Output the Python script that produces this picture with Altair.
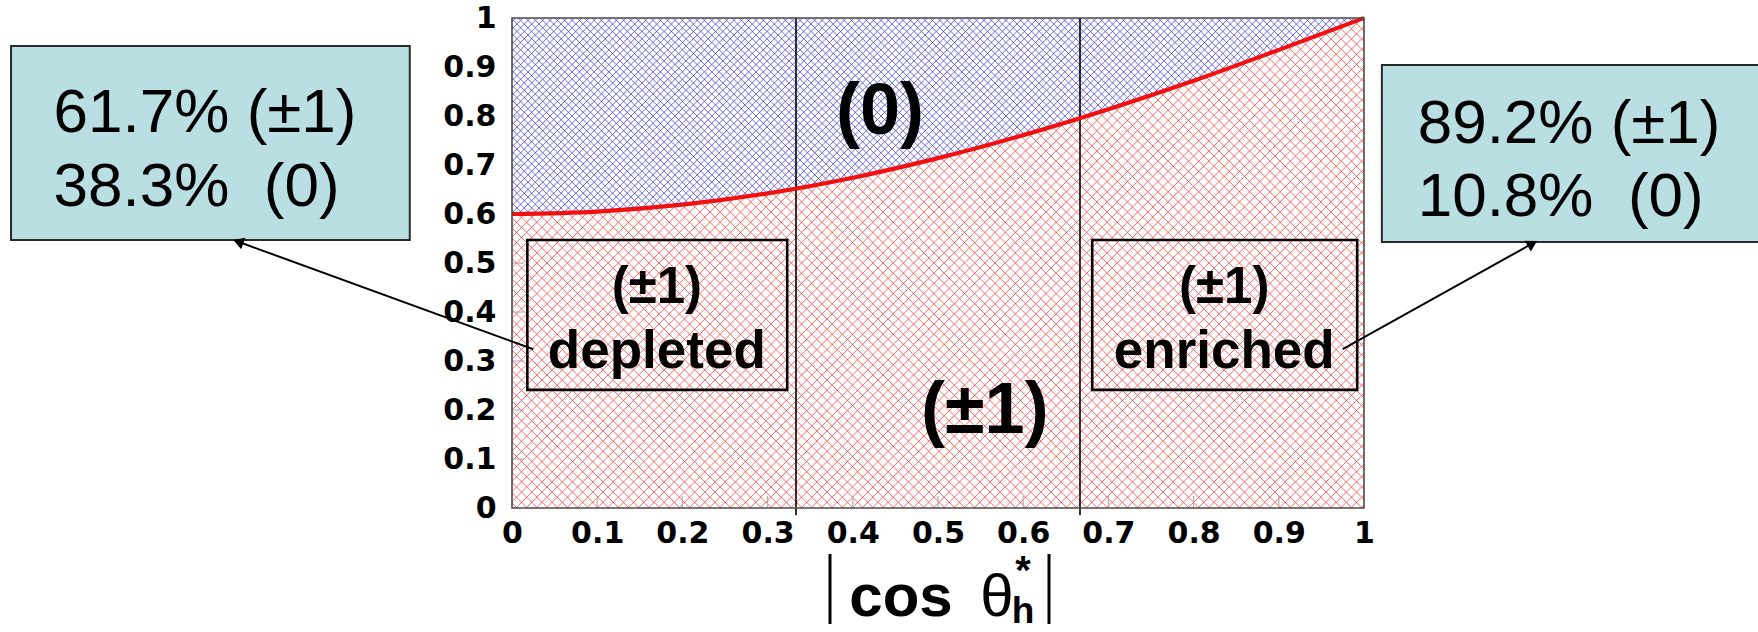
import numpy as np
import pandas as pd
import altair as alt

# Fraction of (±1) helicity events versus |cos theta_h*|
cos_theta = [0.0, 0.1, 0.2, 0.3, 0.4, 0.5, 0.6, 0.7, 0.8, 0.9, 1.0]
frac_pm1 = [0.600, 0.605, 0.619, 0.642, 0.674, 0.714, 0.761, 0.814, 0.872, 0.935, 1.000]

# Bin boundaries drawn as vertical lines
bin_edges = [1 / 3, 2 / 3]
tick_values = [0, 0.1, 0.2, 0.3, 0.4, 0.5, 0.6, 0.7, 0.8, 0.9, 1.0]
inner_ticks = [0.1, 0.2, 0.3, 0.4, 0.5, 0.6, 0.7, 0.8, 0.9]

# Helicity composition in the first and last bins
depleted_lines = ["61.7% (±1)", "38.3%\u00a0 (0)"]
enriched_lines = ["89.2% (±1)", "10.8%\u00a0 (0)"]

# Plot-area size and placement on the page
W, H = 852, 490
LEFT, TOP = 512, 18
PAGE_W, PAGE_H = 1758, 632

FONT = "Liberation Sans, Arial, Helvetica, sans-serif"
TICK_FONT = "DejaVu Sans, Liberation Sans, sans-serif"

curve = pd.DataFrame({"x": cos_theta, "f": frac_pm1})
curve["lo"] = 0.0
curve["hi"] = 1.0

xs = alt.Scale(domain=[0, 1], nice=False, zero=False)
ys = alt.Scale(domain=[0, 1], nice=False, zero=False)

axis_x = alt.Axis(values=tick_values, format=".1~f", labelFont=TICK_FONT, labelFontSize=30,
                  labelFontWeight="bold", labelColor="black", labelPadding=10,
                  domain=False, ticks=False, grid=False, title=None,
                  labelFlush=False, labelOverlap=False)
axis_y = alt.Axis(values=tick_values, format=".1~f", labelFont=TICK_FONT, labelFontSize=30,
                  labelFontWeight="bold", labelColor="black", labelPadding=16,
                  domain=False, ticks=False, grid=False, title=None,
                  labelFlush=False, labelOverlap=False)


def X(field):
    return alt.X(field, scale=xs, axis=axis_x, title=None)


def Y(field):
    return alt.Y(field, scale=ys, axis=axis_y, title=None)


def hatch(rgb, alpha, spacing, width, box_w, box_h, rising):
    """Striped linear gradient: one family of 45-degree hatch lines."""
    span = box_w + box_h
    step = spacing * np.sqrt(2)
    half = width * np.sqrt(2) / 2
    on = f"rgba({rgb[0]},{rgb[1]},{rgb[2]},{alpha})"
    off = f"rgba({rgb[0]},{rgb[1]},{rgb[2]},0)"
    stops = []
    s = step / 2
    while s + half < span:
        for off_px, col in ((s - half, off), (s, on), (s + half, off)):
            stops.append({"offset": round(off_px / span, 5), "color": col})
        s += step
    k = span / (box_w ** 2 + box_h ** 2)
    if rising:
        x1, y1, x2, y2 = 0, 0, k * box_w, k * box_h
    else:
        x1, y1, x2, y2 = 0, 1, k * box_w, 1 - k * box_h
    return {"gradient": "linear", "x1": x1, "y1": y1, "x2": x2, "y2": y2, "stops": stops}


RED = (255, 60, 60)
BLUE = (50, 50, 225)
blue_h = H * (1 - min(frac_pm1))

layers = []

# (±1) region below the curve, cross-hatched red
for rising in (True, False):
    layers.append(
        alt.Chart(curve).mark_area(
            interpolate="monotone", strokeWidth=0,
            fill=hatch(RED, 0.8, 7.2, 1.35, W, H, rising))
        .encode(x=X("x:Q"), y=Y("lo:Q"), y2="f:Q")
    )

# (0) region above the curve, cross-hatched blue
for rising in (True, False):
    layers.append(
        alt.Chart(curve).mark_area(
            interpolate="monotone", strokeWidth=0,
            fill=hatch(BLUE, 0.75, 5.2, 1.35, W, blue_h, rising))
        .encode(x=X("x:Q"), y=Y("f:Q"), y2="hi:Q")
    )

# Light inner tick marks along the left and bottom edges
tick_df = pd.DataFrame({"v": inner_ticks})
layers.append(
    alt.Chart(tick_df).mark_rule(color="#b0b0b0", strokeWidth=1.2)
    .encode(y=Y("v:Q"), x=alt.value(0), x2=alt.value(12))
)
layers.append(
    alt.Chart(tick_df).mark_rule(color="#b0b0b0", strokeWidth=1.2)
    .encode(x=X("v:Q"), y=alt.value(H), y2=alt.value(H - 12))
)

# Bin boundaries
edge_df = pd.DataFrame({"x": bin_edges, "lo": [-0.015] * 2, "hi": [1.0] * 2})
layers.append(
    alt.Chart(edge_df).mark_rule(color="black", strokeWidth=1.6)
    .encode(x=X("x:Q"), y=Y("lo:Q"), y2="hi:Q")
)

# Boundary curve
layers.append(
    alt.Chart(curve).mark_line(color="#f01010", strokeWidth=4.2, interpolate="monotone")
    .encode(x=X("x:Q"), y=Y("f:Q"))
)

# Plot frame
layers.append(
    alt.Chart(pd.DataFrame({"k": [0]})).mark_rect(fillOpacity=0, stroke="#4a4a4a", strokeWidth=1.6)
    .encode(x=alt.value(0), x2=alt.value(W), y=alt.value(0), y2=alt.value(H))
)

# Summary boxes (outside the plot) and labelled bins (inside), in data units
boxes = pd.DataFrame({
    "name": ["depleted_summary", "enriched_summary", "depleted_bin", "enriched_bin"],
    "x0": [-0.588, 1.021, 0.018, 0.681],
    "x1": [-0.120, 1.480, 0.323, 0.992],
    "y0": [0.547, 0.543, 0.241, 0.241],
    "y1": [0.943, 0.904, 0.547, 0.547],
})
layers.append(
    alt.Chart(boxes.iloc[:2]).mark_rect(fill="#b9dfe3", stroke="#2a2a2a", strokeWidth=2)
    .encode(x=X("x0:Q"), x2="x1:Q", y=Y("y0:Q"), y2="y1:Q")
)
layers.append(
    alt.Chart(boxes.iloc[2:]).mark_rect(fillOpacity=0, stroke="black", strokeWidth=2.6)
    .encode(x=X("x0:Q"), x2="x1:Q", y=Y("y0:Q"), y2="y1:Q")
)

# Percentages inside the summary boxes
summary_text = pd.DataFrame({
    "t": depleted_lines + enriched_lines,
    "x": [-0.538, -0.538, 1.063, 1.063],
    "y": [0.767, 0.616, 0.745, 0.596],
})
layers.append(
    alt.Chart(summary_text).mark_text(align="left", baseline="alphabetic", font=FONT,
                                      fontSize=62, color="black")
    .encode(x=X("x:Q"), y=Y("y:Q"), text="t:N")
)

# Region labels
region_text = pd.DataFrame({
    "t": ["(0)", "(±1)"],
    "x": [0.432, 0.555],
    "y": [0.763, 0.153],
})
layers.append(
    alt.Chart(region_text).mark_text(align="center", baseline="alphabetic", font=FONT,
                                     fontSize=72, fontWeight="bold", color="black")
    .encode(x=X("x:Q"), y=Y("y:Q"), text="t:N")
)

# Bin labels
bin_text = pd.DataFrame({
    "t": ["(±1)", "depleted", "(±1)", "enriched"],
    "x": [0.170, 0.170, 0.836, 0.836],
    "y": [0.418, 0.286, 0.418, 0.286],
    "fs": [51, 53, 51, 53],
})
layers.append(
    alt.Chart(bin_text).mark_text(align="center", baseline="alphabetic", font=FONT,
                                  fontWeight="bold", color="black")
    .encode(x=X("x:Q"), y=Y("y:Q"), text="t:N",
            size=alt.Size("fs:Q", scale=None, legend=None))
)

# Arrows from the bin boxes to the summary boxes
arrows = pd.DataFrame({
    "x_tail": [0.025, 0.975],
    "y_tail": [0.324, 0.324],
    "x_tip": [-0.327, 1.203],
    "y_tip": [0.547, 0.545],
})
dx_px = (arrows["x_tip"] - arrows["x_tail"]) * W
dy_px = -(arrows["y_tip"] - arrows["y_tail"]) * H
length = np.hypot(dx_px, dy_px)
arrows["angle"] = np.degrees(np.arctan2(dx_px, -dy_px)) % 360
head_back = 5.2
arrows["x_head"] = arrows["x_tip"] - dx_px / length * head_back / W
arrows["y_head"] = arrows["y_tip"] + dy_px / length * head_back / H

layers.append(
    alt.Chart(arrows).mark_rule(color="black", strokeWidth=2)
    .encode(x=X("x_tail:Q"), y=Y("y_tail:Q"), x2="x_head:Q", y2="y_head:Q")
)
layers.append(
    alt.Chart(arrows).mark_point(shape="triangle-up", filled=True, color="black",
                                 size=150, opacity=1, strokeWidth=0)
    .encode(x=X("x_head:Q"), y=Y("y_head:Q"),
            angle=alt.Angle("angle:Q", scale=None))
)

# Axis title |cos theta_h*| assembled from pieces (pixel offsets from the plot origin)
bars = pd.DataFrame({"px": [318, 537]})
layers.append(
    alt.Chart(bars).mark_rule(color="black", strokeWidth=3)
    .encode(x=alt.X("px:Q", scale=None), y=alt.value(536), y2=alt.value(606))
)
title_bold = pd.DataFrame({
    "t": ["cos", "h", "*"],
    "px": [389, 511, 511],
    "py": [598, 605, 566],
    "fs": [60, 37, 40],
})
layers.append(
    alt.Chart(title_bold).mark_text(align="center", baseline="alphabetic", font=FONT,
                                    fontWeight="bold", color="black")
    .encode(x=alt.X("px:Q", scale=None), y=alt.Y("py:Q", scale=None), text="t:N",
            size=alt.Size("fs:Q", scale=None, legend=None))
)
title_theta = pd.DataFrame({"t": ["θ"], "px": [485], "py": [598]})
layers.append(
    alt.Chart(title_theta).mark_text(align="center", baseline="alphabetic", font=FONT,
                                     fontSize=60, color="black")
    .encode(x=alt.X("px:Q", scale=None), y=alt.Y("py:Q", scale=None), text="t:N")
)

chart = alt.layer(*layers).properties(
    width=W,
    height=H,
    autosize=alt.AutoSizeParams(type="none"),
    padding={"left": LEFT, "top": TOP, "right": PAGE_W - LEFT - W, "bottom": PAGE_H - TOP - H},
    background="white",
).configure_view(stroke=None)

chart.save("out.html", embed_options={"renderer": "svg", "actions": False})
